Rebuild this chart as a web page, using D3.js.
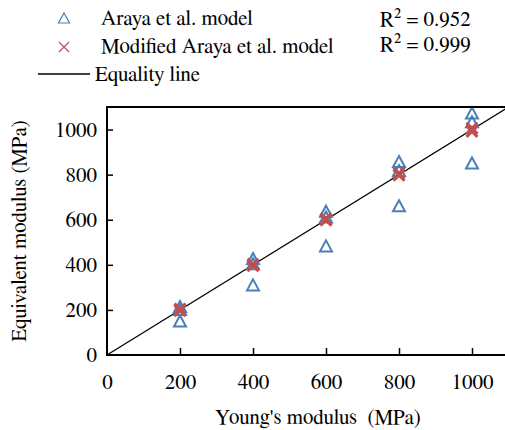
<!DOCTYPE html>
<html><head><meta charset="utf-8">
<script src="https://cdn.jsdelivr.net/npm/d3@7"></script>
</head><body style="margin:0">
<script>
const youngs = [200, 400, 600, 800, 1000];
const arayaHigh = [215, 428, 638, 858, 1073];
const arayaMid = [202, 405, 612, 818, 1035];
const arayaLow = [151, 311, 484, 662, 852];
const modifiedA = [204, 402, 604, 806, 1006];
const modifiedB = [197, 396, 598, 797, 992];
const xTicks = [0, 200, 400, 600, 800, 1000];
const yTicks = [0, 200, 400, 600, 800, 1000];
const r2Araya = "R² = 0.952";
const r2Modified = "R² = 0.999";

const W = 505, H = 430;
const FAM = '"FreeSerif", "Liberation Serif"';
const m = {left: 107, top: 107, bottom: 75};
const svg = d3.select("body").append("svg").attr("width", W).attr("height", H);
const x = d3.scaleLinear().domain([0, 1100]).range([m.left, m.left + 401.5]);
const y = d3.scaleLinear().domain([0, 1100]).range([H - m.bottom, m.top]);
const blue = "#4A7EBB", red = "#C0504D";

svg.append("line").attr("x1", x(0)).attr("y1", y(0)).attr("x2", x(1100)).attr("y2", y(1100))
  .attr("stroke", "#000").attr("stroke-width", 1.3);

const tri = (w, h) => `M0,${-h/2}L${w/2},${h/2}L${-w/2},${h/2}Z`;
const arayaPts = [];
youngs.forEach((v, i) => { arayaPts.push([v, arayaHigh[i]], [v, arayaMid[i]], [v, arayaLow[i]]); });
svg.append("g").selectAll("path").data(arayaPts).join("path")
  .attr("d", tri(12, 11)).attr("transform", d => `translate(${x(d[0])},${y(d[1])})`)
  .attr("fill", "none").attr("stroke", blue).attr("stroke-width", 2);
const modPts = [];
youngs.forEach((v, i) => { modPts.push([v, modifiedA[i]], [v, modifiedB[i]]); });
const s = 5.5;
svg.append("g").selectAll("path").data(modPts).join("path")
  .attr("d", `M${-s},${-s}L${s},${s}M${-s},${s}L${s},${-s}`)
  .attr("transform", d => `translate(${x(d[0])},${y(d[1])})`)
  .attr("fill", "none").attr("stroke", red).attr("stroke-width", 3);

svg.append("rect").attr("x", x(0)).attr("y", y(1100)).attr("width", x(1100) - x(0)).attr("height", y(0) - y(1100))
  .attr("fill", "none").attr("stroke", "#000").attr("stroke-width", 2);

const xa = svg.append("g").attr("transform", `translate(0,${y(0)})`)
  .call(d3.axisBottom(x).tickValues(xTicks).tickFormat(d3.format("d")).tickSizeInner(-7).tickSizeOuter(0).tickPadding(19));
xa.select(".domain").remove();
xa.selectAll("line").attr("stroke", "#000").attr("stroke-width", 1.5);
xa.selectAll("text").style("font-family", FAM).style("font-size", "21px");
const ya = svg.append("g").attr("transform", `translate(${x(0)},0)`)
  .call(d3.axisLeft(y).tickValues(yTicks).tickFormat(d3.format("d")).tickSizeInner(-6).tickSizeOuter(0).tickPadding(10));
ya.select(".domain").remove();
ya.selectAll("line").attr("stroke", "#000").attr("stroke-width", 1.5);
ya.selectAll("text").style("font-family", FAM).style("font-size", "21px");
xa.selectAll(".tick line").filter(d => d === 0).remove();
ya.selectAll(".tick line").filter(d => d === 0).remove();

function label(x0, y0, t, anchor, transform) {
  const el = svg.append("text").style("font-family", FAM).style("font-size", "21px").text(t);
  if (transform) el.attr("transform", transform); else el.attr("x", x0).attr("y", y0);
  if (anchor) el.attr("text-anchor", anchor);
  return el;
}
label(318, 424, "Young's modulus\u00A0 (MPa)", "middle");
label(0, 0, "Equivalent modulus (MPa)", "middle", "translate(26,231) rotate(-90)");

svg.append("path").attr("d", tri(11, 10)).attr("transform", "translate(64,18)")
  .attr("fill", "none").attr("stroke", blue).attr("stroke-width", 1.2);
svg.append("path").attr("d", "M-5,-5L5,5M-5,5L5,-5").attr("transform", "translate(64,47)")
  .attr("fill", "none").attr("stroke", red).attr("stroke-width", 1.2);
svg.append("line").attr("x1", 38).attr("x2", 90).attr("y1", 74).attr("y2", 74)
  .attr("stroke", "#000").attr("stroke-width", 1.3);
label(101, 25, "Araya et al. model");
label(101, 53, "Modified Araya et al. model");
label(95, 81, "Equality line");
label(380, 26, r2Araya);
label(380, 51, r2Modified);
</script>
</body></html>
